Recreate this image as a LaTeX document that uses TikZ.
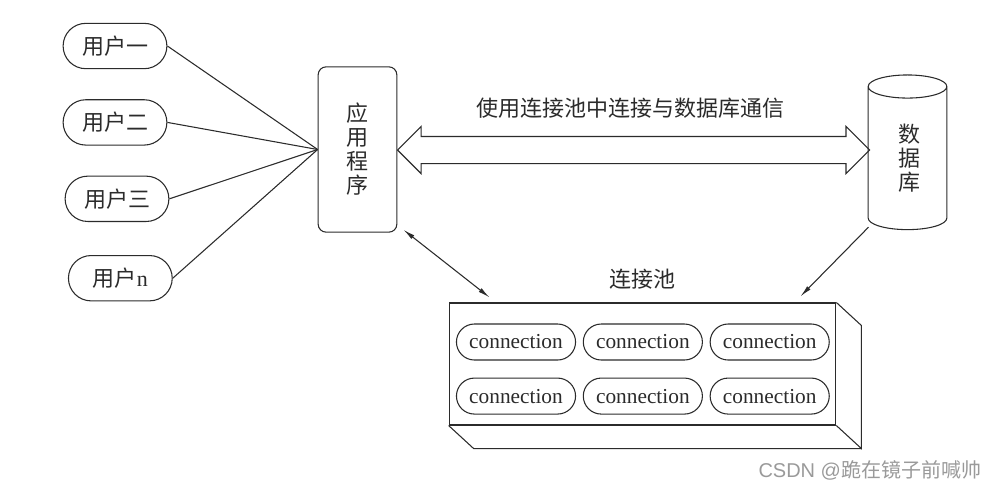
\documentclass[tikz,border=0pt]{standalone}
\usepackage{fontspec}
\setmainfont{Liberation Serif}
\newfontfamily\cjk{Noto Sans CJK SC}
\newfontfamily\wmark{Liberation Sans}
\usetikzlibrary{arrows.meta,positioning,shapes.geometric,shapes.misc,shapes.arrows}
\definecolor{ink}{HTML}{2B2B2B}
\definecolor{mark}{HTML}{9A9A9A}

\begin{document}
\begin{tikzpicture}[x=0.75pt, y=-0.75pt, line width=0.8pt, every node/.style={text=ink}, user/.style={draw=ink,rounded rectangle,minimum width=84.5pt,minimum height=34pt,font=\cjk\fontsize{16.5}{18}\selectfont}, conn/.style={draw=ink,rounded rectangle,minimum width=96pt,minimum height=27pt,font=\fontsize{16}{18}\selectfont}, vtext/.style={font=\cjk\fontsize{16.5}{18}\selectfont,align=center}, a/.style={-{Latex[length=9pt,width=3.5pt]},draw=ink}, ab/.style={{Latex[length=9pt,width=3.5pt]}-{Latex[length=9pt,width=3.5pt]},draw=ink}]
\useasboundingbox (0,0) rectangle (1002,494);
% users
\node[user] (u1) at (115,46) {用户一};
\node[user,below=22.5pt of u1] (u2) {用户二};
\node[user,below=22.5pt of u2,xshift=1.5pt] (u3) {用户三};
\node[user,below=24.75pt of u3,xshift=2.5pt] (u4) {用户{\rmfamily n}};
% application and database
\node[draw=ink,rounded corners=6pt,minimum width=59pt,minimum height=124pt,vtext] (app) at (357.5,149.5) {应\\用\\程\\序};
\node[cylinder,shape border rotate=90,draw=ink,aspect=2.6,minimum width=59pt,minimum height=116pt] (db) at (907.5,161) {};
\node[vtext] (dbtext) at (909,158) {数\\据\\库};
\foreach \u in {u1,u2,u3,u4} \draw[draw=ink] (\u.east) -- (app.west);
% link between application and database
\node[double arrow,draw=ink,double arrow head extend=7.5pt,inner xsep=0pt,inner ysep=9.75pt,minimum height=354pt] (link) at (633.5,150) {};
\node[vtext] (linktext) at (630,108) {使用连接池中连接与数据库通信};
% connection pool
\node[draw=ink,minimum width=290pt,minimum height=91.5pt] (pool) at (642.5,364) {};
\draw[draw=ink] (pool.north east) -- ++(25,23) -- ([shift={(25,23)}]pool.south east) -- (pool.south east);
\draw[draw=ink] (pool.south west) -- ++(25,23) -- ([shift={(25,23)}]pool.south east);
\node[vtext,above=6pt of pool] (pooltext) {连接池};
\node[conn] (c11) at (516,342) {connection};
\node[conn,right=5pt of c11] (c12) {connection};
\node[conn,right=5pt of c12] (c13) {connection};
\node[conn,below=12.75pt of c11] (c21) {connection};
\node[conn,right=5pt of c21] (c22) {connection};
\node[conn,right=5pt of c22] (c23) {connection};
\draw[ab] ([shift={(6,-3)}]app.south east) -- ([shift={(41,-5)}]pool.north west);
\draw[a] ([shift={(-39,-3)}]db.south) -- ([shift={(-36,-6)}]pool.north east);
\node[font=\wmark\fontsize{15}{18}\selectfont,text=mark,anchor=east] (wm) at (986,470) {CSDN @{\cjk 跪在镜子前喊帅}};
\end{tikzpicture}
\end{document}
